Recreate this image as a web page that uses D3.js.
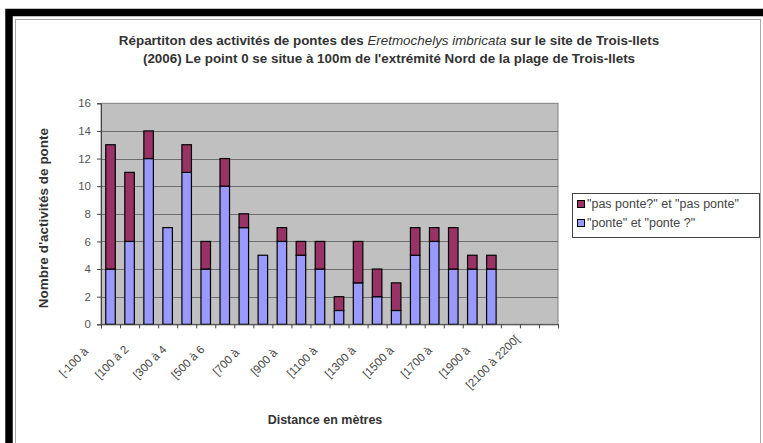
<!doctype html>
<html>
<head>
<meta charset="utf-8">
<script src="https://d3js.org/d3.v7.min.js"></script>
<style>
  body { margin: 0; background: #fff; }
  text { font-family: "Liberation Sans", Arial, sans-serif; }
</style>
</head>
<body>
<div id="chart"></div>
<script>
// categories (100 m slices from the start point)
var categories = ["[-100 à 0[", "[0 à 100[", "[100 à 200[", "[200 à 300[", "[300 à 400[", "[400 à 500[",
  "[500 à 600[", "[600 à 700[", "[700 à 800[", "[800 à 900[", "[900 à 1000[", "[1000 à 1100[",
  "[1100 à 1200[", "[1200 à 1300[", "[1300 à 1400[", "[1400 à 1500[", "[1500 à 1600[", "[1600 à 1700[",
  "[1700 à 1800[", "[1800 à 1900[", "[1900 à 2000[", "[2000 à 2100[", "[2100 à 2200[", "[2200 à 2300["];

// "ponte" et "ponte ?"
var ponte = [4, 6, 12, 7, 11, 4, 10, 7, 5, 6, 5, 4, 1, 3, 2, 1, 5, 6, 4, 4, 4, 0, 0, 0];
// "pas ponte?" et "pas ponte"
var pasPonte = [9, 5, 2, 0, 2, 2, 2, 1, 0, 1, 1, 2, 1, 3, 2, 2, 2, 1, 3, 1, 1, 0, 0, 0];

// labels shown under the axis (one every two categories, cut like in the original)
var tickLabels = ["[-100 à", "[100 à 2", "[300 à 4", "[500 à 6", "[700 à", "[900 à",
  "[1100 à", "[1300 à", "[1500 à", "[1700 à", "[1900 à", "[2100 à 2200["];
var yTicks = [0, 2, 4, 6, 8, 10, 12, 14, 16];

var seriesNames = ["\"ponte\" et \"ponte ?\"", "\"pas ponte?\" et \"pas ponte\""];
var seriesColors = ["#9999ff", "#993366"];

var W = 763, H = 443;
var plot = {left: 101, right: 558, top: 103.3, bottom: 324.3};

var svg = d3.select("#chart").append("svg")
    .attr("width", W)
    .attr("height", H);

// black frame and chart area border
svg.append("rect")
    .attr("x", 9).attr("y", 12.5)
    .attr("width", 800).attr("height", 500)
    .attr("fill", "#fff")
    .attr("stroke", "#000")
    .attr("stroke-width", 7.5);
svg.append("rect")
    .attr("x", 15.5).attr("y", 19.5)
    .attr("width", 745).attr("height", 500)
    .attr("fill", "#fff")
    .attr("stroke", "#a8a8a8");

// scales
var x = d3.scaleBand()
    .domain(categories)
    .range([plot.left, plot.right])
    .paddingInner(0.5)
    .paddingOuter(0.25);
var xEdges = d3.scaleLinear()
    .domain([0, categories.length])
    .range([plot.left, plot.right]);
var y = d3.scaleLinear()
    .domain([0, 16])
    .range([plot.bottom, plot.top]);

// plot background
svg.append("rect")
    .attr("x", plot.left).attr("y", plot.top)
    .attr("width", plot.right - plot.left)
    .attr("height", plot.bottom - plot.top)
    .attr("fill", "#c0c0c0")
    .attr("stroke", "#808080");

// gridlines
svg.append("g")
  .selectAll("line")
  .data(yTicks.slice(1, -1))
  .enter().append("line")
    .attr("x1", plot.left).attr("x2", plot.right)
    .attr("y1", function(d) { return Math.round(y(d)) + 0.5; })
    .attr("y2", function(d) { return Math.round(y(d)) + 0.5; })
    .attr("stroke", "#6e6e6e");

// stack the two series
var rows = categories.map(function(c, i) {
  return {cat: c, ponte: ponte[i], pas: pasPonte[i]};
});
var stack = d3.stack().keys(["ponte", "pas"])(rows);

svg.append("g")
  .selectAll("g")
  .data(stack)
  .enter().append("g")
    .attr("fill", function(d, i) { return seriesColors[i]; })
  .selectAll("rect")
  .data(function(d) { return d.filter(function(v) { return v[1] > v[0]; }); })
  .enter().append("rect")
    .attr("x", function(d) { return x(d.data.cat); })
    .attr("y", function(d) { return y(d[1]); })
    .attr("width", x.bandwidth())
    .attr("height", function(d) { return y(d[0]) - y(d[1]); })
    .attr("stroke", "#000")
    .attr("stroke-width", 1.2);

// y axis
var yAxis = svg.append("g")
    .attr("transform", "translate(" + plot.left + ",0)")
    .call(d3.axisLeft(y).tickValues(yTicks).tickSize(4).tickPadding(6));
yAxis.select(".domain").attr("stroke", "#444");
yAxis.selectAll(".tick line").attr("stroke", "#444");
yAxis.selectAll("text")
    .style("font-family", "'Liberation Sans', Arial, sans-serif")
    .style("font-size", "11.5px")
    .attr("fill", "#555");

// x axis (ticks at category edges)
var xAxis = svg.append("g")
    .attr("transform", "translate(0," + plot.bottom + ")")
    .call(d3.axisBottom(xEdges).tickValues(d3.range(categories.length + 1))
      .tickSize(4).tickFormat(""));
xAxis.select(".domain").attr("stroke", "#444");
xAxis.selectAll(".tick line").attr("stroke", "#444");

// category labels, rotated
svg.append("g")
    .style("opacity", 0.99)
  .selectAll("text")
  .data(tickLabels)
  .enter().append("text")
    .attr("transform", function(d, i) {
      var cx = x(categories[i * 2]) + x.bandwidth() / 2;
      return "translate(" + (cx - 37) + "," + 362 + ") rotate(-45)";
    })
    .attr("text-anchor", "middle")
    .attr("dy", "0.35em")
    .style("font-size", "11.5px")
    .attr("fill", "#444")
    .text(function(d) { return d; });

// title
var title = svg.append("text")
    .attr("x", 389)
    .attr("y", 44.5)
    .attr("text-anchor", "middle")
    .style("font-size", "13.4px")
    .style("font-weight", "bold")
    .attr("fill", "#333");
title.append("tspan").text("Répartiton des activités de pontes des ");
title.append("tspan").style("font-style", "italic").style("font-weight", "normal").text("Eretmochelys imbricata");
title.append("tspan").text(" sur le site de Trois-Ilets");
svg.append("text")
    .attr("x", 389)
    .attr("y", 62.5)
    .attr("text-anchor", "middle")
    .style("font-size", "13.4px")
    .style("font-weight", "bold")
    .attr("fill", "#333")
    .text("(2006) Le point 0 se situe à 100m de l'extrémité Nord de la plage de Trois-Ilets");

// axis titles
svg.append("text")
    .attr("transform", "translate(43," + 218 + ") rotate(-90)")
    .attr("text-anchor", "middle")
    .attr("dy", "0.35em")
    .style("font-size", "13.5px")
    .style("font-weight", "bold")
    .attr("fill", "#333")
    .text("Nombre d'activités de ponte");
svg.append("text")
    .attr("x", 325)
    .attr("y", 424)
    .attr("text-anchor", "middle")
    .style("font-size", "12.5px")
    .style("font-weight", "bold")
    .attr("fill", "#333")
    .text("Distance en mètres");

// legend (stacked order: top series first)
var legend = svg.append("g");
legend.append("rect")
    .attr("x", 572.5).attr("y", 193.5)
    .attr("width", 187).attr("height", 44)
    .attr("fill", "#fff")
    .attr("stroke", "#444");
var legendItems = [1, 0];
legendItems.forEach(function(s, k) {
  var ly = 204 + k * 19;
  legend.append("rect")
      .attr("x", 577.5).attr("y", ly - 3.5)
      .attr("width", 7).attr("height", 7)
      .attr("fill", seriesColors[s])
      .attr("stroke", "#000");
  legend.append("text")
      .attr("x", 587)
      .attr("y", ly)
      .attr("dy", "0.35em")
      .style("font-size", "12.5px")
      .attr("fill", "#444")
      .text(seriesNames[s]);
});
</script>
</body>
</html>
